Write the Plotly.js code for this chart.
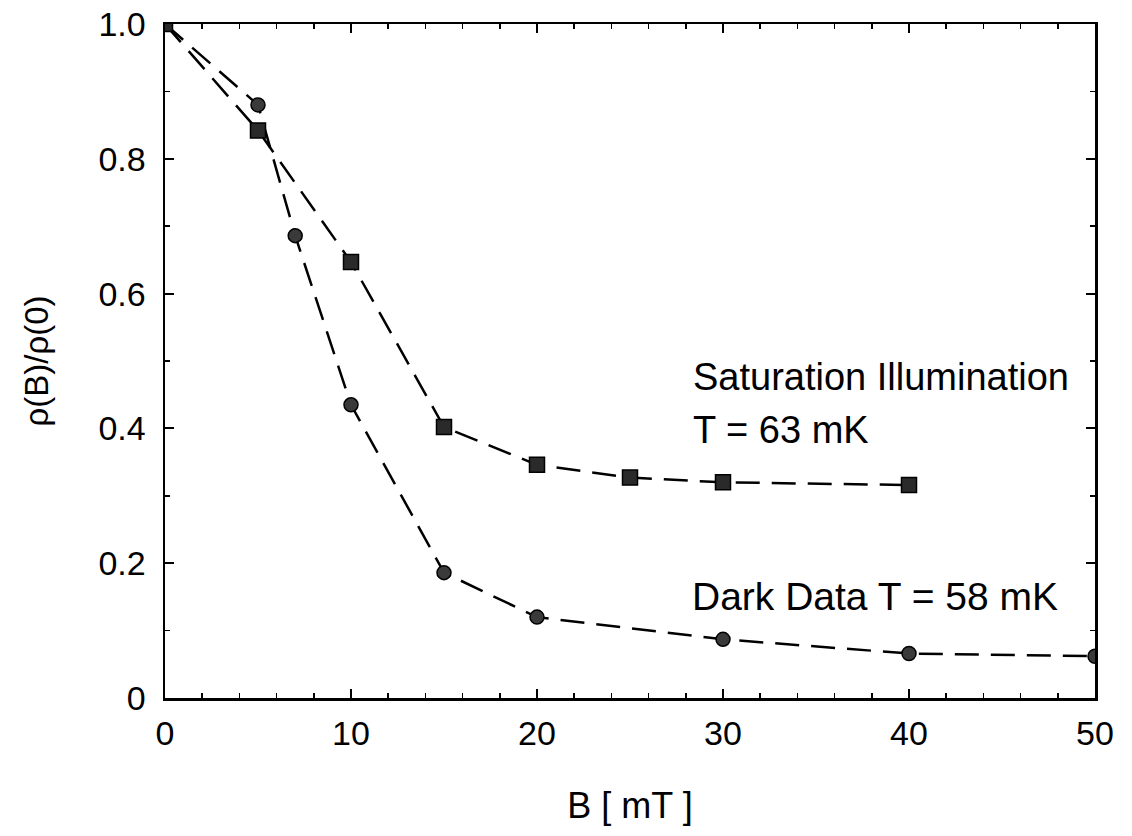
<!DOCTYPE html>
<html>
<head>
<meta charset="utf-8">
<script src="https://cdn.plot.ly/plotly-3.0.1.min.js"></script>
<style>html,body{margin:0;padding:0;background:#fff;}</style>
</head>
<body>
<div id="chart" style="width:1132px;height:836px;"></div>
<script>
// Data
const darkB = [0, 5, 7, 10, 15, 20, 30, 40, 50];
const darkRho = [1.0, 0.880, 0.686, 0.435, 0.186, 0.120, 0.087, 0.066, 0.062];
const satB = [0, 5, 10, 15, 20, 25, 30, 40];
const satRho = [1.0, 0.842, 0.647, 0.402, 0.346, 0.327, 0.320, 0.316];
const xTicks = [0, 10, 20, 30, 40, 50];
const yTicks = [0, 0.2, 0.4, 0.6, 0.8, 1.0];
const yTickText = ['0', '0.2', '0.4', '0.6', '0.8', '1.0'];
const labelSat1 = 'Saturation Illumination';
const labelSat2 = 'T = 63 mK';
const labelDark = 'Dark Data T = 58 mK';

const FONT = 'Liberation Sans, Arial, Helvetica, sans-serif';
const dash = '24px,12px';

const traces = [
  {
    x: darkB, y: darkRho, type: 'scatter', mode: 'lines+markers', name: 'Dark',
    line: {color: '#000', width: 2.5, dash: dash},
    marker: {symbol: 'circle', size: 14, color: '#3a3a3a', line: {color: '#000', width: 1.5}},
    cliponaxis: true
  },
  {
    x: satB, y: satRho, type: 'scatter', mode: 'lines+markers', name: 'Saturation',
    line: {color: '#000', width: 2.5, dash: dash},
    marker: {symbol: 'square', size: 15, color: '#2a2a2a', line: {color: '#000', width: 1.5}},
    cliponaxis: true
  }
];

const axisCommon = {
  showgrid: false, zeroline: false,
  showline: true, linecolor: '#000', linewidth: 2.5,
  mirror: 'ticks', ticks: 'inside', ticklen: 9, tickwidth: 2, tickcolor: '#000',
  tickfont: {family: FONT, size: 34, color: '#000'}
};

const layout = {
  width: 1132, height: 836,
  margin: {l: 165, r: 37, t: 24, b: 138},
  paper_bgcolor: '#fff', plot_bgcolor: '#fff',
  showlegend: false,
  font: {family: FONT, color: '#000'},
  xaxis: Object.assign({}, axisCommon, {
    range: [0, 50], tickmode: 'array', tickvals: xTicks, ticktext: xTicks.map(String),
    ticklabelstandoff: 4,
    minor: {dtick: 2, ticks: 'inside', ticklen: 5, tickwidth: 1.5, tickcolor: '#000'},
    title: {text: 'B [ mT ]', font: {family: FONT, size: 36, color: '#000'}, standoff: 42}
  }),
  yaxis: Object.assign({}, axisCommon, {
    range: [0, 1], tickmode: 'array', tickvals: yTicks, ticktext: yTickText,
    ticklabelstandoff: 10,
    minor: {dtick: 0.1, ticks: 'inside', ticklen: 5, tickwidth: 1.5, tickcolor: '#000'},
    title: {text: 'ρ(B)/ρ(0)', font: {family: FONT, size: 33, color: '#000'}, standoff: 40}
  }),
  annotations: [
    {x: 28.3, y: 0.476, xref: 'x', yref: 'y', xanchor: 'left', yanchor: 'middle', showarrow: false,
     text: labelSat1, font: {family: FONT, size: 38, color: '#000'}},
    {x: 28.3, y: 0.397, xref: 'x', yref: 'y', xanchor: 'left', yanchor: 'middle', showarrow: false,
     text: labelSat2, font: {family: FONT, size: 38, color: '#000'}},
    {x: 28.2, y: 0.150, xref: 'x', yref: 'y', xanchor: 'left', yanchor: 'middle', showarrow: false,
     text: labelDark, font: {family: FONT, size: 39, color: '#000'}}
  ]
};

Plotly.newPlot('chart', traces, layout, {displayModeBar: false, staticPlot: true});
</script>
</body>
</html>
